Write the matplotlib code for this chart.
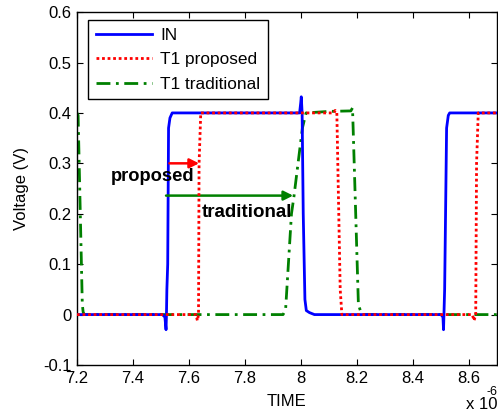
import matplotlib
matplotlib.use("Agg")
import matplotlib.pyplot as plt

# time in microseconds (axis shows x 10^-6)
t_in = [7.20, 7.505, 7.514, 7.518, 7.5195, 7.521, 7.524, 7.527, 7.532, 7.540, 7.548,
        7.995, 7.999, 8.001, 8.004, 8.008, 8.014, 8.019, 8.030, 8.048,
        8.500, 8.507, 8.509, 8.5105, 8.513, 8.520, 8.526, 8.531, 8.70]
v_in = [0.0, 0.0, -0.005, -0.03, 0.0, 0.05, 0.10, 0.37, 0.39, 0.40, 0.40,
        0.40, 0.42, 0.432, 0.40, 0.20, 0.03, 0.008, 0.004, 0.0,
        0.0, -0.005, -0.03, 0.0, 0.05, 0.37, 0.395, 0.40, 0.40]

t_prop = [7.20, 7.625, 7.630, 7.634, 7.636, 7.642, 7.70,
          8.118, 8.122, 8.128, 8.140, 8.146, 8.150,
          8.612, 8.618, 8.624, 8.627, 8.633, 8.70]
v_prop = [0.0, 0.0, -0.012, 0.0, 0.30, 0.40, 0.40,
          0.40, 0.405, 0.40, 0.05, 0.0, 0.0,
          0.0, -0.012, 0.0, 0.30, 0.40, 0.40]

t_trad = [7.200, 7.204, 7.219, 7.222, 7.226,
          7.936, 7.945, 7.966, 7.975, 7.995, 8.005, 8.018,
          8.100, 8.178, 8.184, 8.190, 8.205, 8.212, 8.222, 8.70]
v_trad = [0.40, 0.395, 0.02, 0.005, 0.0,
          0.0, 0.01, 0.20, 0.235, 0.325, 0.37, 0.40,
          0.403, 0.404, 0.41, 0.30, 0.02, 0.008, 0.0, 0.0]

plt.rcParams['font.family'] = ['Liberation Sans', 'DejaVu Sans']
fig = plt.figure(figsize=(4.98, 4.17), dpi=100)
ax = fig.add_axes([0.1546, 0.1247, 0.8434, 0.8463])
fs = 12

ax.plot(t_in, v_in, color='#0000ff', lw=2.0, label='IN', zorder=3)
ax.plot(t_prop, v_prop, color='#ff0000', lw=2.0, ls=(0, (1, 1.0)), label='T1 proposed', zorder=4)
ax.plot(t_trad, v_trad, color='#008000', lw=2.0, ls=(0, (5, 2, 1, 2)), label='T1 traditional', zorder=2)

ax.set_xlim(7.2, 8.7)
ax.set_ylim(-0.1, 0.6)
ax.set_xticks([7.2, 7.4, 7.6, 7.8, 8.0, 8.2, 8.4, 8.6])
ax.set_xticklabels(['7.2', '7.4', '7.6', '7.8', '8', '8.2', '8.4', '8.6'], fontsize=fs)
ax.set_yticks([-0.1, 0, 0.1, 0.2, 0.3, 0.4, 0.5, 0.6])
ax.set_yticklabels(['-0.1', '0', '0.1', '0.2', '0.3', '0.4', '0.5', '0.6'], fontsize=fs)
ax.tick_params(direction='in', top=True, right=True, length=4, width=0.8, pad=4)
for s in ax.spines.values():
    s.set_linewidth(1.0)

ax.set_xlabel('TIME', fontsize=fs, labelpad=6)
ax.set_ylabel('Voltage (V)', fontsize=fs, labelpad=10)
fig.text(0.998, 0.012, 'x 10', ha='right', va='bottom', fontsize=fs)
fig.text(0.998, 0.045, '-6', ha='right', va='bottom', fontsize=9)

ax.annotate('', xy=(7.636, 0.30), xytext=(7.53, 0.30),
            arrowprops=dict(arrowstyle='-|>', color='#ff0000', lw=1.8, mutation_scale=14, shrinkA=0, shrinkB=0))
ax.annotate('', xy=(7.972, 0.236), xytext=(7.518, 0.236),
            arrowprops=dict(arrowstyle='-|>', color='#008000', lw=1.8, mutation_scale=14, shrinkA=0, shrinkB=0))
ax.text(7.322, 0.273, 'proposed', fontweight='bold', fontsize=13.2, va='center', ha='left')
ax.text(7.646, 0.203, 'traditional', fontweight='bold', fontsize=13.5, va='center', ha='left')

leg = ax.legend(loc='upper left', bbox_to_anchor=(0.026, 0.978), prop={'size': 12.4},
                fancybox=False, edgecolor='black', framealpha=1, handlelength=3.3, borderpad=0.45,
                labelspacing=0.55, handletextpad=0.45, borderaxespad=0.0)
leg.get_frame().set_linewidth(1.0)

fig.savefig('out.png', dpi=100)
